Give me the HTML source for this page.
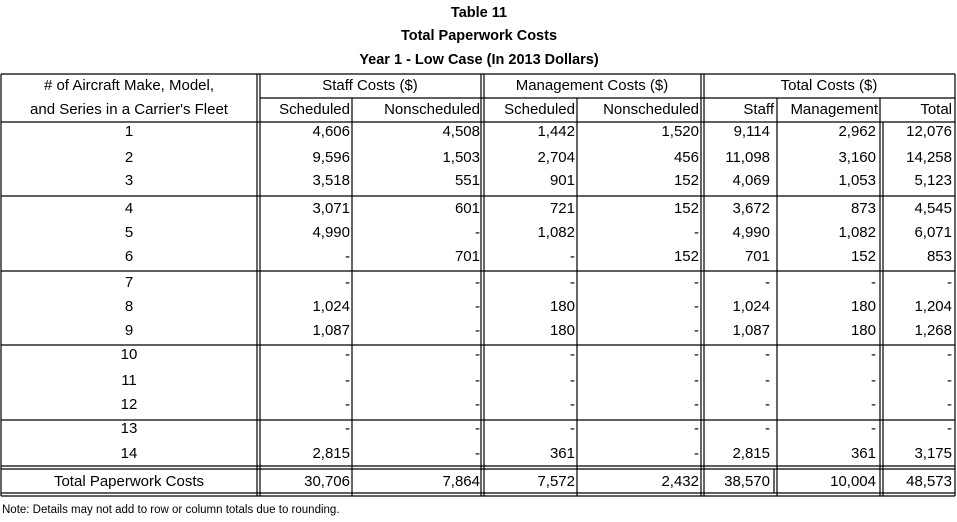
<!DOCTYPE html>
<html><head><meta charset="utf-8">
<style>
html,body{margin:0;padding:0;background:#fff;}
svg{display:block;font-family:"Liberation Sans",sans-serif;}
</style></head>
<body>
<svg id="tbl" width="957" height="522" viewBox="0 0 957 522" xmlns="http://www.w3.org/2000/svg">
<g font-weight="bold" font-size="14.5" text-anchor="middle" fill="#000">
<text x="479" y="17">Table 11</text>
<text x="479" y="40">Total Paperwork Costs</text>
<text x="479" y="64">Year 1 - Low Case (In 2013 Dollars)</text>
</g>
<g id="lines" stroke="#000" stroke-width="1.2"></g>
<g id="hdr" font-size="15" fill="#000"></g>
<g id="body" font-size="15" fill="#000"></g>
<text x="2" y="513" font-size="11.5" fill="#000">Note:  Details may not add to row or column totals due to rounding.</text>
</svg>
<script>
const labels=["1","2","3","4","5","6","7","8","9","10","11","12","13","14"];
const staffSched=["4,606","9,596","3,518","3,071","4,990","-","-","1,024","1,087","-","-","-","-","2,815"];
const staffNon=["4,508","1,503","551","601","-","701","-","-","-","-","-","-","-","-"];
const mgmtSched=["1,442","2,704","901","721","1,082","-","-","180","180","-","-","-","-","361"];
const mgmtNon=["1,520","456","152","152","-","152","-","-","-","-","-","-","-","-"];
const totStaff=["9,114","11,098","4,069","3,672","4,990","701","-","1,024","1,087","-","-","-","-","2,815"];
const totMgmt=["2,962","3,160","1,053","873","1,082","152","-","180","180","-","-","-","-","361"];
const totAll=["12,076","14,258","5,123","4,545","6,071","853","-","1,204","1,268","-","-","-","-","3,175"];
const totalsRow=["30,706","7,864","7,572","2,432","38,570","10,004","48,573"];

const NS="http://www.w3.org/2000/svg";
const Lg=document.getElementById('lines'),Hg=document.getElementById('hdr'),Bg=document.getElementById('body');
function line(x1,y1,x2,y2){const l=document.createElementNS(NS,'line');l.setAttribute('x1',x1);l.setAttribute('y1',y1);l.setAttribute('x2',x2);l.setAttribute('y2',y2);


Lg.appendChild(l);}
function txt(p,x,y,s,anchor){const t=document.createElementNS(NS,'text');t.setAttribute('x',x);t.setAttribute('y',y);t.setAttribute('text-anchor',anchor);t.textContent=s;


p.appendChild(t);}
line(1,74,955,74);
line(260,98,955,98);
line(1,122,955,122);
[196,271,345,420].forEach(y=>line(1,y,955,y));
line(1,466,955,466);line(1,469,955,469);
line(1,493,955,493);line(1,496,955,496);
const yTop=74,yBot=496;
line(1,yTop,1,yBot);line(955,yTop,955,yBot);
[257,260,481,484,701,704].forEach(x=>line(x,yTop,x,yBot));
line(352,98,352,yBot);line(577,98,577,yBot);
line(777,98,777,yBot);line(880,98,880,yBot);line(883,122,883,yBot);
line(774,469,774,493);
txt(Hg,129,90,"# of Aircraft Make, Model,","middle");
txt(Hg,129,114,"and Series in a Carrier's Fleet","middle");
txt(Hg,370,90,"Staff Costs ($)","middle");
txt(Hg,592,90,"Management Costs ($)","middle");
txt(Hg,829,90,"Total Costs ($)","middle");
const sub=[["Scheduled",350],["Nonscheduled",480],["Scheduled",575],["Nonscheduled",699],["Staff",774],["Management",878],["Total",952]];
sub.forEach(s=>txt(Hg,s[1],114,s[0],"end"));
const ys=[136,162,185,213,237,261,287,311,335,359,385,409,433,458];
const cols=[[staffSched,350],[staffNon,480],[mgmtSched,575],[mgmtNon,699],[totStaff,770],[totMgmt,876],[totAll,952]];
labels.forEach((lab,i)=>{
 txt(Bg,129,ys[i],lab,"middle");
 cols.forEach(c=>txt(Bg,c[1],ys[i],c[0][i],"end"));
});
txt(Bg,129,486,"Total Paperwork Costs","middle");
totalsRow.forEach((v,j)=>txt(Bg,cols[j][1],486,v,"end"));
</script>
</body></html>
